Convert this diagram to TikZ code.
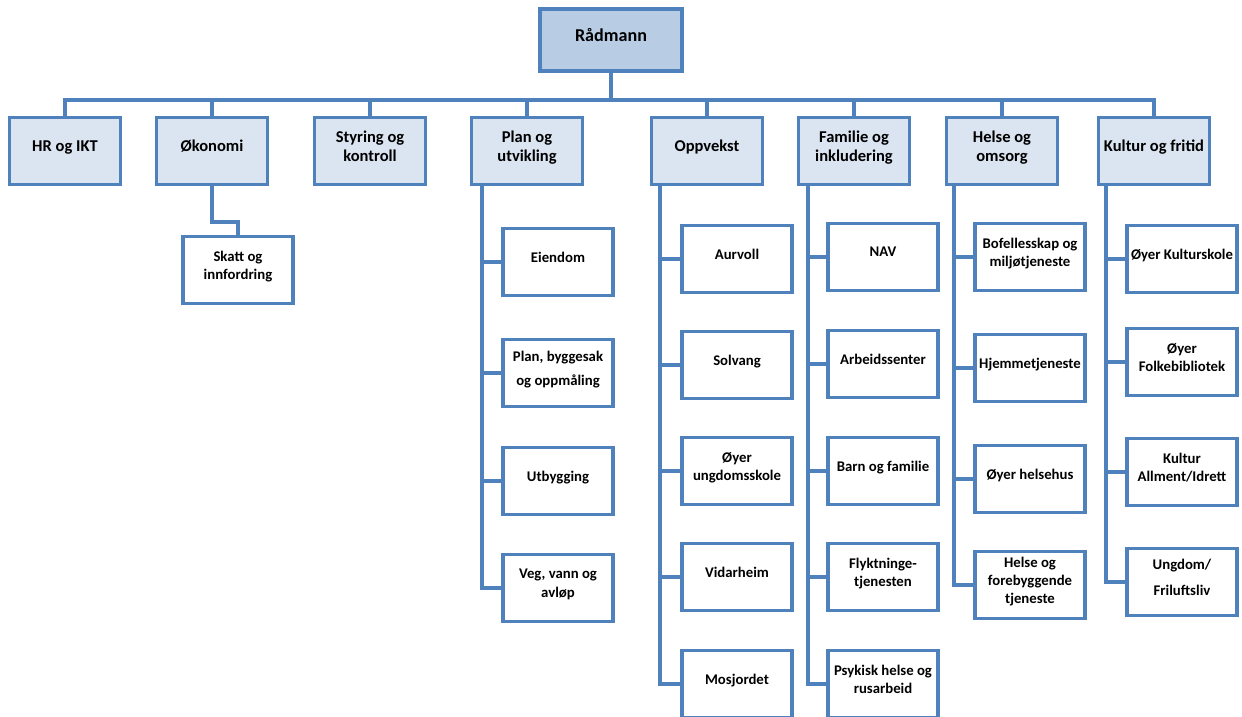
\documentclass[tikz,border=0pt]{standalone}
\usepackage{fontspec}
\setmainfont{Carlito}
\definecolor{orgline}{RGB}{79,129,189}
\definecolor{orgfill}{RGB}{219,229,241}
\definecolor{orgtop}{RGB}{184,204,228}
\begin{document}
\begin{tikzpicture}[
    x=0.02cm, y=-0.02cm,
    box/.style={rectangle, draw=orgline, line width=1.8pt, align=center, inner sep=1pt, minimum width=2.2cm, minimum height=1.34cm, text depth=5.5pt, font={\bfseries\fontsize{8.4}{10.4}\selectfont}},
    chief/.style={box, fill=orgtop, minimum width=2.84cm, minimum height=1.24cm, font={\bfseries\fontsize{10.3}{12}\selectfont}},
    dept/.style={box, fill=orgfill, minimum width=2.22cm, font={\bfseries\fontsize{9.4}{11.3}\selectfont}},
    sect/.style={box, fill=white},
    link/.style={draw=orgline, line width=1.8pt}
]
    \useasboundingbox (0,0) rectangle (1242,717);
    \clip (0,0) rectangle (1242,717);

    \node[chief] (r) at (611,40) {Rådmann};

    \node[dept] (hr) at (65,151) {HR og IKT};
    \node[dept] (oko) at (212,151) {Økonomi};
    \node[dept] (sty) at (370,151) {Styring og\\kontroll};
    \node[dept] (plan) at (527,151) {Plan og\\utvikling};
    \node[dept] (opp) at (707,151) {Oppvekst};
    \node[dept] (fam) at (854,151) {Familie og\\inkludering};
    \node[dept] (hel) at (1002,151) {Helse og\\omsorg};
    \node[dept] (kul) at (1154,151) {Kultur og fritid};

    \node[sect] (skatt) at (238,270) {Skatt og\\innfordring};

    \node[sect] (eie) at (558,262) {Eiendom};
    \node[sect] (byg) at (558,373) {Plan, byggesak\\[3pt]og oppmåling};
    \node[sect] (utb) at (558,481) {Utbygging};
    \node[sect] (veg) at (558,588) {Veg, vann og\\avløp};

    \node[sect] (aur) at (737,259) {Aurvoll};
    \node[sect] (sol) at (737,365) {Solvang};
    \node[sect] (ung) at (737,471) {Øyer\\ungdomsskole};
    \node[sect] (vid) at (737,577) {Vidarheim};
    \node[sect] (mos) at (737,684) {Mosjordet};

    \node[sect] (nav) at (883,257) {NAV};
    \node[sect] (arb) at (883,364) {Arbeidssenter};
    \node[sect] (bar) at (883,471) {Barn og familie};
    \node[sect] (fly) at (883,577) {Flyktninge-\\tjenesten};
    \node[sect] (psy) at (883,684) {Psykisk helse og\\rusarbeid};

    \node[sect] (bof) at (1030,257) {Bofellesskap og\\miljøtjeneste};
    \node[sect] (hje) at (1030,368) {Hjemmetjeneste};
    \node[sect] (hhu) at (1030,479) {Øyer helsehus};
    \node[sect] (hfo) at (1030,585) {Helse og\\forebyggende\\tjeneste};

    \node[sect] (ksk) at (1182,259) {Øyer Kulturskole};
    \node[sect] (bib) at (1182,362) {Øyer\\Folkebibliotek};
    \node[sect] (allm) at (1182,472) {Kultur\\Allment/Idrett};
    \node[sect] (fri) at (1182,582) {Ungdom/\\[4pt]Friluftsliv};

    \coordinate (bus) at (0,100);
    \foreach \d in {hr,oko,sty,plan,opp,fam,hel,kul}
        \draw[link] (\d.north) -- (\d.north |- bus) -- (r.south |- bus) -- (r.south);
    \draw[link] (oko.south) -- ++(0,36) -| (skatt.north);
    \foreach \c in {eie,byg,utb,veg}
        \draw[link] ([xshift=0.24cm]plan.south west) |- (\c.west);
    \foreach \c in {aur,sol,ung,vid,mos}
        \draw[link] ([xshift=0.2cm]opp.south west) |- (\c.west);
    \foreach \c in {nav,arb,bar,fly,psy}
        \draw[link] ([xshift=0.22cm]fam.south west) |- (\c.west);
    \foreach \c in {bof,hje,hhu,hfo}
        \draw[link] ([xshift=0.18cm]hel.south west) |- (\c.west);
    \foreach \c in {ksk,bib,allm,fri}
        \draw[link] ([xshift=0.18cm]kul.south west) |- (\c.west);
\end{tikzpicture}
\end{document}
